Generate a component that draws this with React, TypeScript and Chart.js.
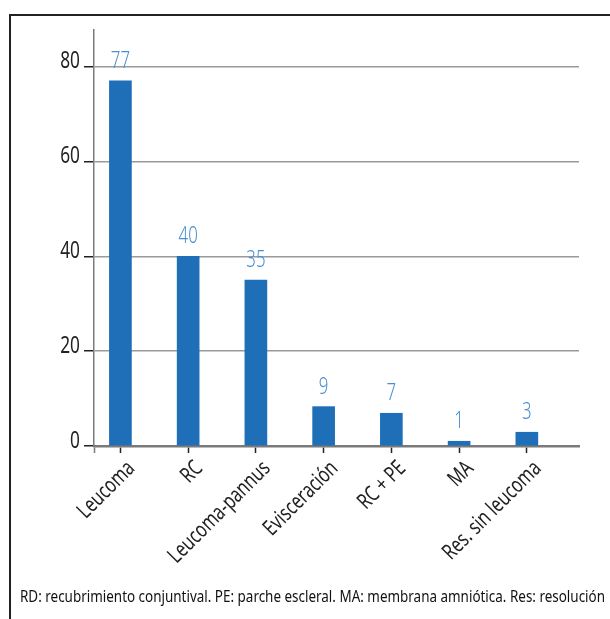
import React, { useEffect, useRef } from "react";
import { Chart, registerables } from "chart.js";

Chart.register(...registerables);

const categories = ["Leucoma", "RC", "Leucoma-pannus", "Evisceración", "RC + PE", "MA", "Res. sin leucoma"];
const barValues = [77, 40, 35, 8.3, 6.9, 1, 2.9];
const valueLabels = ["77", "40", "35", "9", "7", "1", "3"];
const yTicks = [0, 20, 40, 60, 80];
const footnote = "RD: recubrimiento conjuntival. PE: parche escleral. MA: membrana amniótica. Res: resolución";

const FONT = "'Noto Sans', 'Open Sans', sans-serif";

function condensedText(ctx: any, text: string, x: number, y: number, sx: number, rot = 0) {
  ctx.save();
  ctx.translate(x, y);
  if (rot) ctx.rotate(rot);
  ctx.scale(sx, 1);
  ctx.fillText(text, 0, 0);
  ctx.restore();
}

const textPlugin = {
  id: "texts",
  afterDraw(chart: any) {
    const ctx = chart.ctx;
    const meta = chart.getDatasetMeta(0);
    const xs = chart.scales.x;
    const ys = chart.scales.y;
    ctx.save();
    // value labels
    ctx.fillStyle = "#4a8fd2";
    ctx.font = `300 24px ${FONT}`;
    ctx.textAlign = "center";
    ctx.textBaseline = "alphabetic";
    meta.data.forEach((el: any, i: number) => {
      condensedText(ctx, valueLabels[i], el.x, el.y - 13, 0.7);
    });
    // y tick labels
    ctx.fillStyle = "#222";
    ctx.font = `24px ${FONT}`;
    ctx.textAlign = "right";
    ctx.textBaseline = "middle";
    yTicks.forEach((v) => {
      condensedText(ctx, String(v), ys.left + ys.width - 14, ys.getPixelForValue(v) - 5, 0.72);
    });
    // x tick labels
    ctx.font = `22px ${FONT}`;
    ctx.textAlign = "right";
    ctx.textBaseline = "middle";
    categories.forEach((c, i) => {
      const px = xs.getPixelForValue(i);
      condensedText(ctx, c, px + 11, xs.top + 19, 0.75, -Math.PI / 4);
    });
    // footnote
    ctx.font = `17px ${FONT}`;
    ctx.textAlign = "left";
    ctx.textBaseline = "middle";
    ctx.fillStyle = "#111";
    ctx.fillText(footnote, 10, 581, 585);
    ctx.restore();
  },
};

export default function App() {
  const ref = useRef<HTMLCanvasElement>(null);
  useEffect(() => {
    const chart = new Chart(ref.current!, {
      type: "bar",
      data: {
        datasets: [
          {
            data: barValues.map((v, i) => ({ x: i, y: v })),
            backgroundColor: "#1e6fb7",
            barThickness: 22,
          },
        ],
      },
      options: {
        animation: false,
        responsive: false,
        maintainAspectRatio: false,
        layout: { padding: { top: 14, right: 31, left: 0, bottom: 73 } },
        plugins: { legend: { display: false }, tooltip: { enabled: false } },
        scales: {
          x: {
            type: "linear",
            offset: false,
            min: -0.39,
            max: 6.77,
            afterBuildTicks(scale: any) {
              scale.ticks = [{ value: -0.39 }, ...categories.map((_, i) => ({ value: i }))];
            },
            afterFit(scale: any) {
              scale.height = 100;
            },
            grid: {
              offset: false,
              drawOnChartArea: false,
              tickLength: 7,
              tickWidth: 1.5,
              tickColor: (c: any) => (c.tick && c.tick.value < 0 ? "#7a7a7a" : "#222"),
            },
            border: { color: "#7a7a7a", width: 2.5 },
            ticks: { display: false },
          },
          y: {
            min: 0,
            max: 87.7,
            afterBuildTicks(scale: any) {
              scale.ticks = yTicks.map((v) => ({ value: v }));
            },
            afterFit(scale: any) {
              scale.width = 84;
            },
            grid: {
              color: "#9a9a9a",
              lineWidth: 1.5,
              tickLength: 10,
              tickColor: "#222",
              tickWidth: 1.5,
            },
            border: { color: "#7a7a7a", width: 1.5 },
            ticks: { display: false },
          },
        },
      },
      plugins: [textPlugin],
    } as any);
    return () => chart.destroy();
  }, []);

  return (
    <div style={{ position: "absolute", left: 0, top: 0, width: 610, height: 619, overflow: "hidden", background: "#fff" }}>
      <div
        style={{
          position: "absolute",
          left: 9,
          top: 14,
          right: 0,
          bottom: 0,
          borderTop: "2px solid #222",
          borderLeft: "2px solid #222",
        }}
      />
      <canvas ref={ref} width={600} height={603} style={{ position: "absolute", left: 10, top: 16, width: 600, height: 603 }} />
    </div>
  );
}
